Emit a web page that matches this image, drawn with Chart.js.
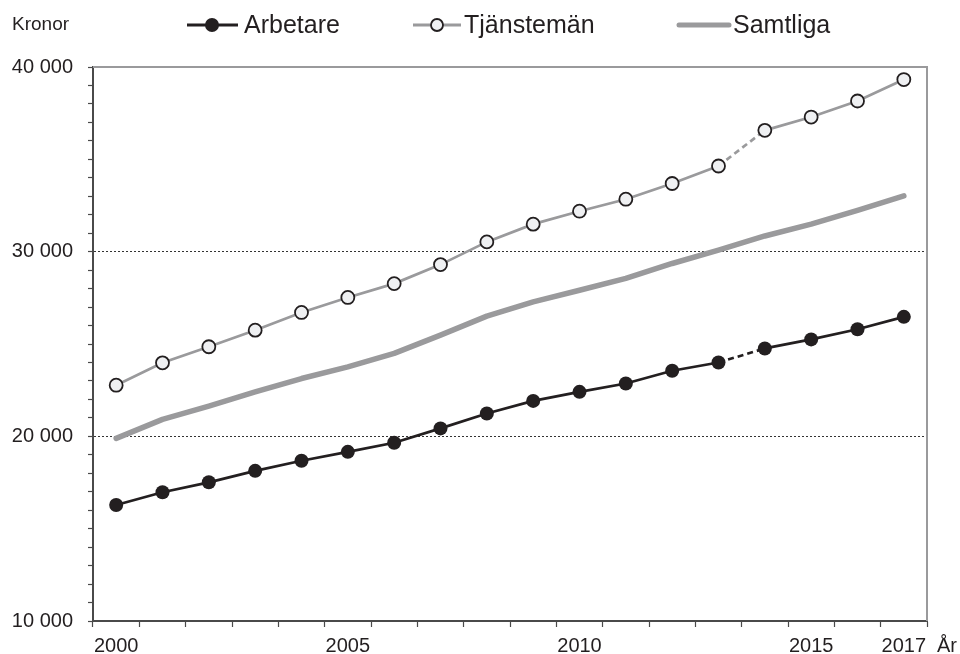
<!DOCTYPE html>
<html lang="sv">
<head>
    <meta charset="UTF-8">
    <title>Kronor</title>
    <style>
        html, body { margin: 0; padding: 0; background: #fff; }
        #wrap { width: 960px; height: 654px; }
    </style>
</head>
<body>
<div id="wrap"><canvas id="myCanvas" width="960" height="654"></canvas></div>

<script src="https://cdn.jsdelivr.net/npm/chart.js@4/dist/chart.umd.min.js"></script>
<script>

var years = ['2000', '2001', '2002', '2003', '2004', '2005', '2006', '2007', '2008',
             '2009', '2010', '2011', '2012', '2013', '2014', '2015', '2016', '2017'];
var shownYears = ['2000', '2005', '2010', '2015', '2017'];

var arbetare = [16280, 16970, 17510, 18130, 18680, 19160, 19650, 20430, 21240,
                21920, 22410, 22860, 23550, 24000, 24760, 25250, 25800, 26470];
var tjansteman = [22770, 23980, 24850, 25750, 26710, 27520, 28270, 29300, 30530,
                  31490, 32190, 32840, 33690, 34640, 36570, 37290, 38160, 39320];
var samtliga = [19890, 20920, 21640, 22410, 23130, 23760, 24490, 25480, 26510,
                27280, 27910, 28550, 29360, 30080, 30850, 31490, 32240, 33020];

var legendNames = ['Arbetare', 'Tjänstemän', 'Samtliga'];
var yTitle = 'Kronor';
var xTitle = 'År';

var ink = '#231f20';
var grey = '#9a9a9c';
var font = '"Liberation Sans", Arial, sans-serif';

// dashed piece where the series has a break (2013 -> 2014)
var breakIndex = 13;
function breakDash(ctx) {
    return ctx.p0DataIndex === breakIndex ? [6, 4] : undefined;
}

function fmt(v) {
    return String(v).replace(/\B(?=(\d{3})+(?!\d))/g, ' ');
}

var frameAndLegend = {
    id: 'frameAndLegend',
    beforeDatasetsDraw: function(chart) {
        var c = chart.ctx, a = chart.chartArea;
        c.save();
        c.strokeStyle = grey;
        c.lineWidth = 2;
        c.beginPath();
        c.moveTo(a.left, a.top);
        c.lineTo(a.right, a.top);
        c.lineTo(a.right, a.bottom);
        c.stroke();
        c.restore();
    },
    afterDraw: function(chart) {
        var c = chart.ctx, a = chart.chartArea;
        c.save();
        c.fillStyle = ink;
        c.textBaseline = 'middle';
        c.font = '19px ' + font;
        c.fillText(yTitle, 12, 25);
        c.font = '20px ' + font;
        c.fillText(xTitle, a.right + 10, 646);

        var y = 25;
        // Arbetare
        c.strokeStyle = ink; c.lineWidth = 3;
        c.beginPath(); c.moveTo(187, y); c.lineTo(238, y); c.stroke();
        c.fillStyle = ink;
        c.beginPath(); c.arc(212, y, 7, 0, Math.PI * 2); c.fill();
        c.font = '25px ' + font;
        c.fillText(legendNames[0], 244, y + 1);
        // Tjänstemän
        c.strokeStyle = grey; c.lineWidth = 3;
        c.beginPath(); c.moveTo(413, y); c.lineTo(461, y); c.stroke();
        c.fillStyle = '#eff0f2'; c.strokeStyle = ink; c.lineWidth = 1.8;
        c.beginPath(); c.arc(437, y, 6, 0, Math.PI * 2); c.fill(); c.stroke();
        c.fillStyle = ink;
        c.fillText(legendNames[1], 464, y + 1);
        // Samtliga
        c.strokeStyle = grey; c.lineWidth = 5; c.lineCap = 'round';
        c.beginPath(); c.moveTo(679, y); c.lineTo(729, y); c.stroke();
        c.fillText(legendNames[2], 733, y + 1);
        c.restore();
    }
};

var context = document.getElementById('myCanvas').getContext('2d');

new Chart(context, {
    type: 'line',
    data: {
        labels: years,
        datasets: [
            {
                label: legendNames[2],
                data: samtliga,
                borderColor: grey,
                borderWidth: 5.5,
                borderCapStyle: 'round',
                borderJoinStyle: 'round',
                pointRadius: 0,
                tension: 0
            },
            {
                label: legendNames[1],
                data: tjansteman,
                borderColor: grey,
                borderWidth: 2.7,
                pointRadius: 6.5,
                pointBorderWidth: 1.8,
                pointBorderColor: ink,
                pointBackgroundColor: '#eff0f2',
                tension: 0,
                segment: { borderDash: breakDash }
            },
            {
                label: legendNames[0],
                data: arbetare,
                borderColor: ink,
                borderWidth: 2.7,
                pointRadius: 7,
                pointBorderWidth: 0,
                pointBackgroundColor: ink,
                tension: 0,
                segment: { borderDash: breakDash }
            }
        ]
    },
    options: {
        responsive: false,
        animation: false,
        layout: { padding: { top: 67, right: 33, left: 0, bottom: 0 } },
        plugins: {
            legend: { display: false },
            tooltip: { enabled: false }
        },
        scales: {
            x: {
                offset: true,
                afterFit: function(s) { s.height = 33; },
                border: { color: '#4a4a4a', width: 2 },
                grid: {
                    offset: true,
                    drawOnChartArea: false,
                    tickLength: 6,
                    tickColor: '#4a4a4a',
                    tickWidth: 1.2
                },
                ticks: {
                    autoSkip: false,
                    maxRotation: 0,
                    padding: 7,
                    color: ink,
                    font: { family: font, size: 20 },
                    callback: function(v, i) {
                        var lab = years[i];
                        return shownYears.indexOf(lab) >= 0 ? lab : '';
                    }
                }
            },
            y: {
                min: 10000,
                max: 40000,
                afterFit: function(s) { s.width = 93; },
                border: { color: '#4a4a4a', width: 2, dash: [2, 2] },
                grid: {
                    color: function(ctx) {
                        var v = ctx.tick && ctx.tick.value;
                        return (v === 20000 || v === 30000) ? '#333' : 'rgba(0,0,0,0)';
                    },
                    lineWidth: 1,
                    tickLength: 5,
                    tickColor: '#4a4a4a',
                    tickWidth: 1.2
                },
                ticks: {
                    stepSize: 1000,
                    autoSkip: false,
                    padding: 15,
                    color: ink,
                    font: { family: font, size: 20 },
                    callback: function(v) {
                        return v % 10000 === 0 ? fmt(v) : '';
                    }
                }
            }
        }
    },
    plugins: [frameAndLegend]
});
</script>
</body>
</html>
